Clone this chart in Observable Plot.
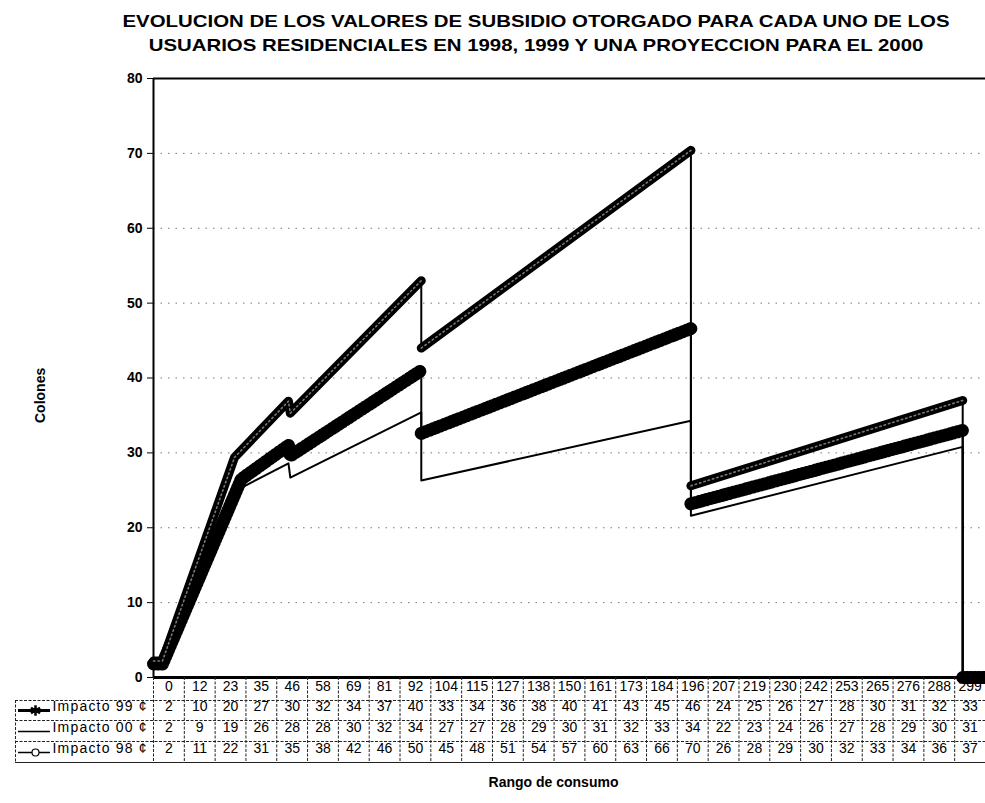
<!DOCTYPE html>
<html><head><meta charset="utf-8">
<script src="https://cdn.jsdelivr.net/npm/d3@7"></script>
<script src="https://cdn.jsdelivr.net/npm/@observablehq/plot@0.6"></script>
<style>
body{margin:0;background:#fff;font-family:"Liberation Sans",Arial,sans-serif;}
#title{height:64px;width:985px;position:relative;overflow:hidden;}
#title span{position:absolute;left:536px;white-space:nowrap;font-weight:bold;font-size:17px;line-height:20px;transform:translateX(-50%) scaleX(1.2);}
#chart svg{display:block;}
</style></head><body>
<div id="title">
<span style="top:12px">EVOLUCION DE LOS VALORES DE SUBSIDIO OTORGADO PARA CADA UNO DE LOS</span>
<span style="top:36px">USUARIOS RESIDENCIALES EN 1998, 1999 Y UNA PROYECCION PARA EL 2000</span>
</div>
<div id="chart"></div>
<script>
// Data table (as printed under the chart)
const rango = [0,12,23,35,46,58,69,81,92,104,115,127,138,150,161,173,184,196,207,219,230,242,253,265,276,288,299];
const impacto99 = [2,10,20,27,30,32,34,37,40,33,34,36,38,40,41,43,45,46,24,25,26,27,28,30,31,32,33];
const impacto00 = [2,9,19,26,28,28,30,32,34,27,27,28,29,30,31,32,33,34,22,23,24,26,27,28,29,30,31];
const impacto98 = [2,11,22,31,35,38,42,46,50,45,48,51,54,57,60,63,66,70,26,28,29,30,32,33,34,36,37];
const series = ["Impacto 99 \u00a2", "Impacto 00 \u00a2", "Impacto 98 \u00a2"];
const yTicks = [0,10,20,30,40,50,60,70,80];

// Break points of the plotted curves (position in category columns)
const tramo = [0,0,0,0,0,0,1,1,2,2,3,3];
const pos99 = [-0.5,-0.21,2.35,3.88,3.94,8.19,8.19,16.94,16.94,25.76,25.76,26.5];
const val99 = [1.8,1.8,26.5,31.0,29.6,41.0,32.6,46.6,23.2,33.0,0,0];
const pos00 = [-0.5,-0.21,2.19,3.88,3.94,8.19,8.19,16.94,16.94,25.76,25.76,26.5];
const val00 = [1.8,1.8,25.0,28.6,26.7,35.4,26.3,34.3,21.6,30.8,0,0];
const pos98 = [-0.5,-0.21,2.13,3.88,3.94,8.19,8.19,16.94,16.94,25.76,25.76,26.5];
const val98 = [2.2,2.2,29.4,36.9,35.3,53.0,44.0,70.4,25.6,37.0,0,0];

const linea = (pos, val) => pos.map((x, i) => ({x, y: val[i], tramo: tramo[i]}));
const d99 = linea(pos99, val99), d00 = linea(pos00, val00), d98 = linea(pos98, val98);

const W = 985, H = 739, mL = 153, mT = 14, mB = 126;
const frameH = H - mT - mB;
const rowDy = [13, 33, 54, 75];     // text rows below the axis
const lineDy = [23, 43, 64, 85];    // table row separators
const seps = rango.map((d, i) => i - 0.5).concat([rango.length - 0.5]);
const font = {fontSize: 14, fill: "black"};
const gridLine = {stroke: "#222", strokeDasharray: "3,1.5"};

const chart = Plot.plot({
  width: W, height: H,
  marginLeft: mL, marginRight: 0, marginTop: mT, marginBottom: mB,
  x: {domain: [-0.5, rango.length - 0.5], axis: null},
  y: {domain: [0, 80], axis: null},
  style: {fontFamily: "'Liberation Sans', Arial, sans-serif", background: "white", color: "black"},
  marks: [
    // grid
    Plot.ruleY(yTicks.filter(d => d > 0 && d < 80), {stroke: "#777", strokeDasharray: "1.5,6"}),
    // y axis
    Plot.axisY(yTicks, {tickSize: 6, tickPadding: 5, fontSize: 14, fontWeight: "bold", label: null}),
    Plot.text(["Colones"], {frameAnchor: "left", dx: -113, dy: 45, rotate: -90, fontWeight: "bold", fontSize: 14}),
    // frame lines
    Plot.ruleX([-0.5], {stroke: "black", strokeWidth: 2}),
    Plot.ruleY([80], {stroke: "black", strokeWidth: 2}),
    // curves
    Plot.line(d00, {x: "x", y: "y", stroke: "black", strokeWidth: 2}),
    Plot.line(d99, {x: "x", y: "y", z: "tramo", stroke: "black", strokeWidth: 9, strokeLinejoin: "round"}),
    Plot.line(d99, {x: "x", y: "y", z: "tramo", stroke: "black", strokeWidth: 13, strokeDasharray: "1.2,2.8"}),
    Plot.line(d99, {x: "x", y: "y", stroke: "black", strokeWidth: 2}),
    Plot.line(d98, {x: "x", y: "y", stroke: "black", strokeWidth: 2}),
    Plot.line(d98, {x: "x", y: "y", z: "tramo", stroke: "black", strokeWidth: 9, strokeLinejoin: "round", strokeLinecap: "round"}),
    Plot.line(d98, {x: "x", y: "y", z: "tramo", stroke: "#777", strokeWidth: 1.6, strokeDasharray: "1.5,3"}),
    Plot.ruleY([0], {stroke: "black", strokeWidth: 3}),
    // data table grid
    Plot.ruleX(seps, {x: d => d, insetTop: frameH, insetBottom: -lineDy[3], ...gridLine}),
    Plot.ruleX([-0.5], {dx: -138, insetTop: frameH + lineDy[0], insetBottom: -lineDy[3], ...gridLine}),
    Plot.ruleY([0], {dy: lineDy[0], insetLeft: -138, ...gridLine}),
    Plot.ruleY([0], {dy: lineDy[1], insetLeft: -138, ...gridLine}),
    Plot.ruleY([0], {dy: lineDy[2], insetLeft: -138, ...gridLine}),
    Plot.ruleY([0], {dy: lineDy[3], insetLeft: -138, stroke: "#222"}),
    // header row
    Plot.text(rango, {x: (d, i) => i, frameAnchor: "bottom", dy: rowDy[0], text: d => String(d), ...font}),
    // value rows
    Plot.text(impacto99, {x: (d, i) => i, frameAnchor: "bottom", dy: rowDy[1], text: d => String(d), ...font}),
    Plot.text(impacto00, {x: (d, i) => i, frameAnchor: "bottom", dy: rowDy[2], text: d => String(d), ...font}),
    Plot.text(impacto98, {x: (d, i) => i, frameAnchor: "bottom", dy: rowDy[3], text: d => String(d), ...font}),
    // legend keys
    Plot.ruleY([0], {dy: rowDy[1], insetLeft: -135, insetRight: W - 50, stroke: "black", strokeWidth: 3}),
    Plot.dot([0], {frameAnchor: "bottom-left", dx: -118, dy: rowDy[1], symbol: "asterisk", r: 5, stroke: "black", strokeWidth: 2.5}),
    Plot.ruleY([0], {dy: rowDy[2], insetLeft: -135, insetRight: W - 50, stroke: "black", strokeWidth: 1.5}),
    Plot.ruleY([0], {dy: rowDy[3], insetLeft: -135, insetRight: W - 50, stroke: "black", strokeWidth: 1.5}),
    Plot.dot([0], {frameAnchor: "bottom-left", dx: -118, dy: rowDy[3], symbol: "circle", r: 3.5, fill: "white", stroke: "black", strokeWidth: 1.2}),
    Plot.text([series[0]], {frameAnchor: "bottom-left", dx: -101, dy: rowDy[1], textAnchor: "start", ...font}),
    Plot.text([series[1]], {frameAnchor: "bottom-left", dx: -101, dy: rowDy[2], textAnchor: "start", ...font}),
    Plot.text([series[2]], {frameAnchor: "bottom-left", dx: -101, dy: rowDy[3], textAnchor: "start", ...font}),
    // x label
    Plot.text(["Rango de consumo"], {frameAnchor: "bottom", dx: -16, dy: 109, fontWeight: "bold", fontSize: 14})
  ]
});
document.getElementById("chart").appendChild(chart);
chart.querySelectorAll("text").forEach(t => {
  if (t.textContent.startsWith("Impacto")) t.style.letterSpacing = "1.2px";
});
</script>
</body></html>
